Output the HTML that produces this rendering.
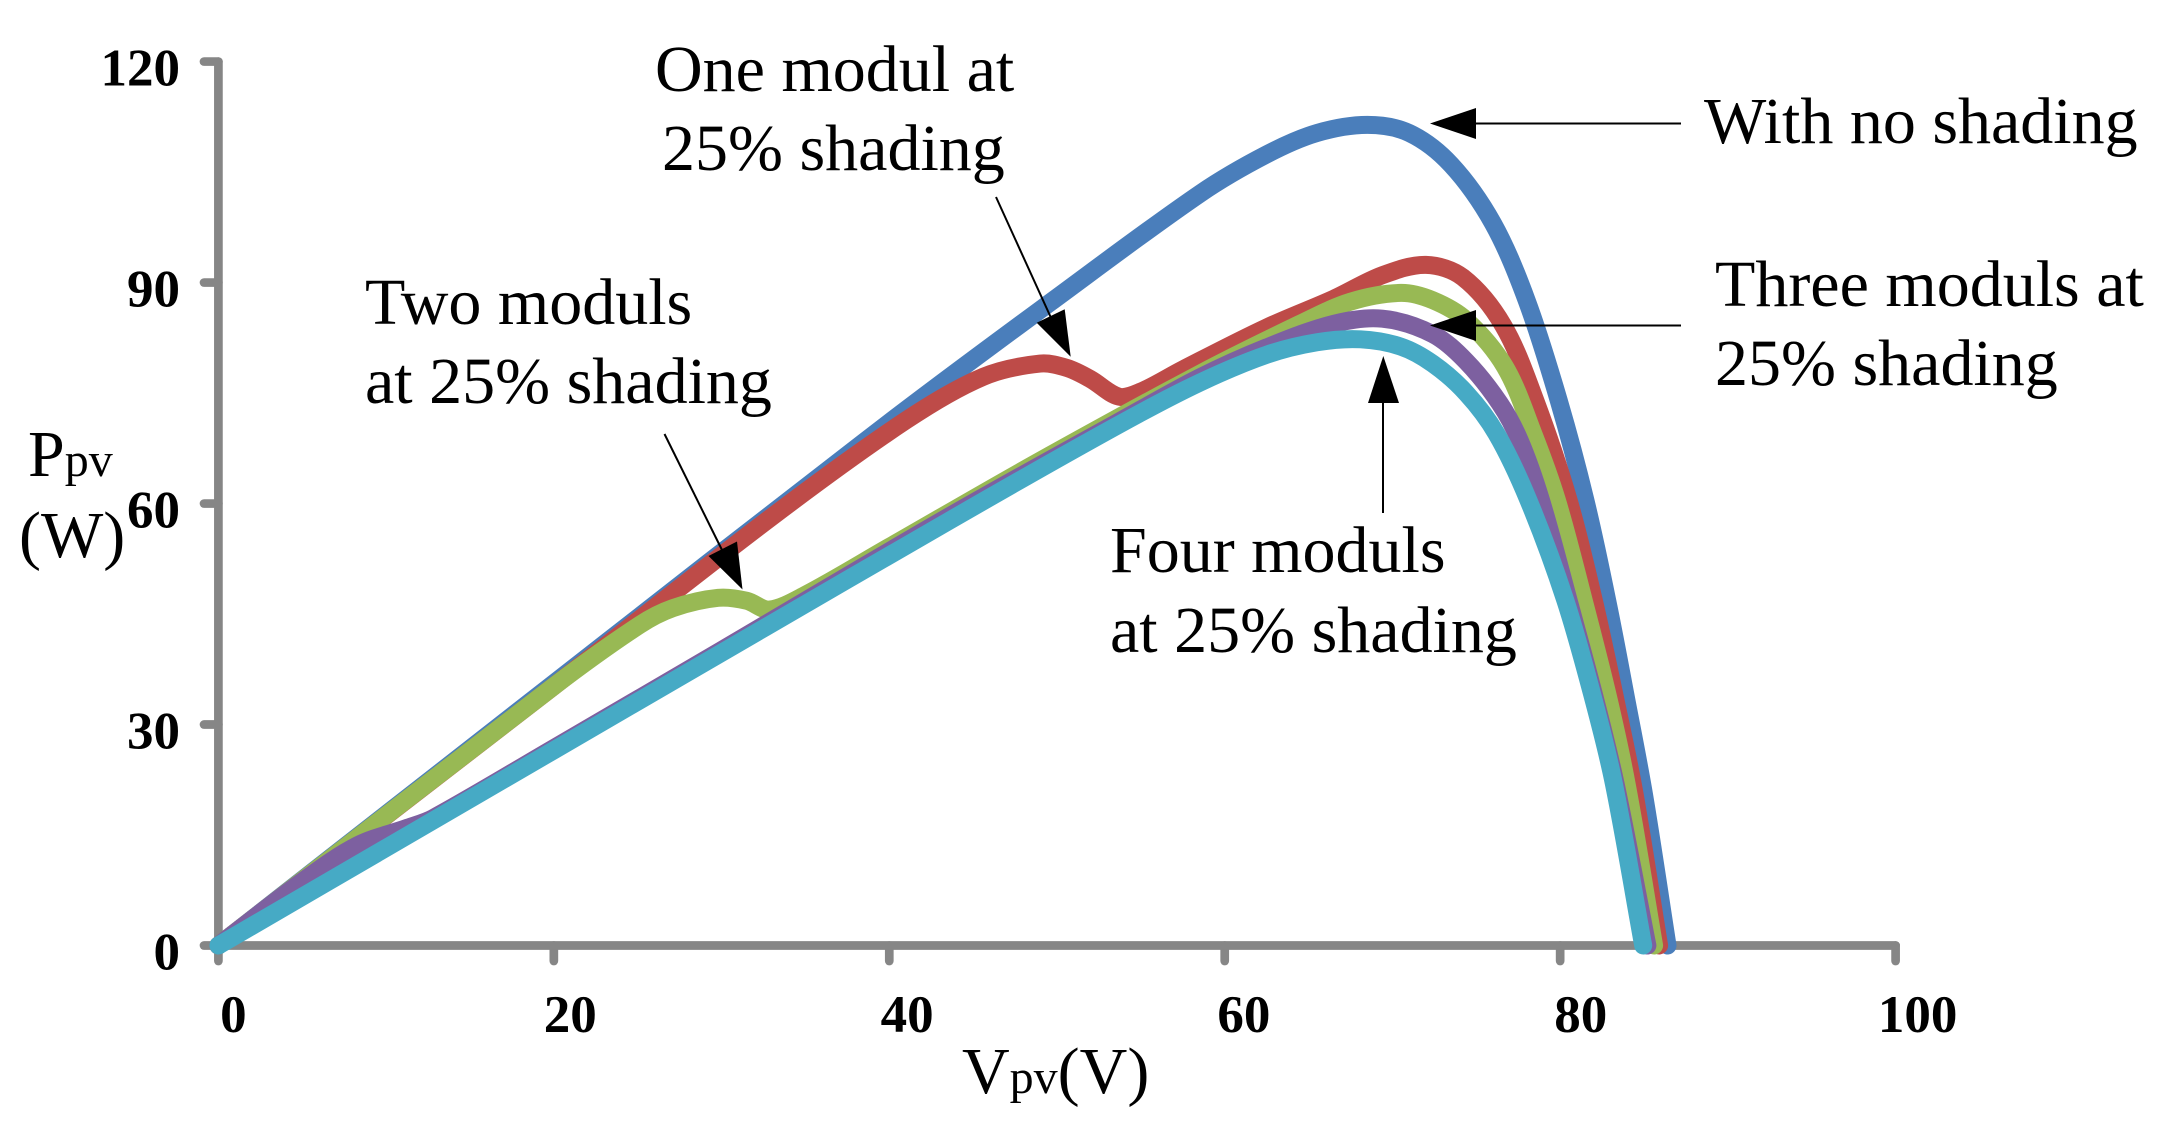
<!DOCTYPE html>
<html lang="en">
<head>
<meta charset="utf-8">
<title>PV power-voltage curves under partial shading</title>
<style>
html,body{margin:0;padding:0;background:#fff;}
svg{display:block;}
text{font-family:"Liberation Serif",serif;fill:#000;}
.lbl{font-size:66px;}
.sub{font-size:48px;}
.tick{font-size:53px;font-weight:bold;}
</style>
</head>
<body>
<svg id="chart" width="2162" height="1127" viewBox="0 0 2162 1127" xmlns="http://www.w3.org/2000/svg">
  <rect width="2162" height="1127" fill="#fff"/>
  <g id="axes"></g>
  <g id="series"></g>
  <g id="ticklabels"></g>

  <g>
    <text class="lbl" x="655" y="91">One modul at</text>
    <text class="lbl" x="662" y="170">25% shading</text>
    <line x1="996" y1="197" x2="1052" y2="320" stroke="#000" stroke-width="2"/>
    <polygon points="1070.7,356.7 1036.7,322.7 1064.7,309.3" fill="#000"/>
  </g>
  <g>
    <text class="lbl" x="365" y="324">Two moduls</text>
    <text class="lbl" x="365" y="403">at 25% shading</text>
    <line x1="664.5" y1="434" x2="722" y2="550" stroke="#000" stroke-width="2"/>
    <polygon points="742.5,589.5 708.5,556 737,541.5" fill="#000"/>
  </g>
  <g>
    <text class="lbl" x="1704" y="143">With no shading</text>
    <line x1="1681" y1="123.5" x2="1470" y2="123.5" stroke="#000" stroke-width="2"/>
    <polygon points="1430,123.5 1476,108 1476,139" fill="#000"/>
  </g>
  <g>
    <text class="lbl" x="1715" y="306">Three moduls at</text>
    <text class="lbl" x="1715" y="385">25% shading</text>
    <line x1="1681" y1="325.5" x2="1470" y2="325.5" stroke="#000" stroke-width="2"/>
    <polygon points="1430,325.5 1476,310 1476,341" fill="#000"/>
  </g>
  <g>
    <text class="lbl" x="1110" y="572">Four moduls</text>
    <text class="lbl" x="1110" y="652">at 25% shading</text>
    <line x1="1383" y1="513" x2="1383" y2="400" stroke="#000" stroke-width="2"/>
    <polygon points="1383.3,356 1368,403 1399,403" fill="#000"/>
  </g>

  <text class="lbl" x="28" y="476">P<tspan class="sub">pv</tspan></text>
  <text class="lbl" x="19" y="557">(W)</text>
  <text class="lbl" x="962" y="1093">V<tspan class="sub">pv</tspan>(V)</text>
</svg>
<script>
const xTicks = [0, 20, 40, 60, 80, 100];
const yTicks = [0, 30, 60, 90, 120];
const xTickLabels = ["0", "20", "40", "60", "80", "100"];
const yTickLabels = ["0", "30", "60", "90", "120"];

const noShadingV = [0,20,40,49.6,58.55,62.5,65.5,68.5,71,73.5,76,78,79.9,81.5,82.8,83.95,85,86.4];
const noShadingP = [0,35.6,71,87.3,102.1,107.4,110.3,111.4,110.3,106,98,87.6,74.1,60.5,46.9,33.3,20.5,0];

const oneModulV = [0,20,33,41,45.6,49,50.6,52,53.7,55,57.5,62.5,66.5,69.4,72,74.2,76.6,78.5,80.5,82,83.3,84.4,85.9];
const oneModulP = [0,35.2,58.2,71.3,77.2,79,78.4,76.9,74.5,75.2,78.2,83.9,87.8,91,92.4,90.7,84.2,74.1,60.5,46.9,33.3,21,0];

const twoModulsV = [0,20,25.1,27.1,29.8,31.5,32.85,35,40,48.6,58.5,64.5,67.5,70.5,72.4,74.4,76.7,78.4,79.8,81.4,82.9,84,85.6];
const twoModulsP = [0,35.2,43.5,45.8,47.2,46.8,45.6,47.6,54.1,65.3,77.6,84.4,87.4,88.6,87.6,84.9,78.6,69.5,60.5,46.9,33.3,21.5,0];

const threeModulsV = [0,5,8.3,11.3,12.8,20,30,43.6,53.6,58.5,62.5,66.5,69.4,72.4,74.4,76.4,77.6,78.85,80.5,82.1,83.3,85.2];
const threeModulsP = [0,8.7,13.6,16,17.3,26.8,40.1,58.3,71,77.1,81.2,84.4,85.1,83,79.3,73.6,68.5,60.5,46.9,33.3,22,0];

const fourModulsV = [0,20,43.6,53.6,58.5,62.5,65.5,68.1,70.5,72.4,74.4,76.2,78.1,80.3,82,83.2,84.95];
const fourModulsP = [0,26.5,57.7,70.6,76.4,80.2,81.9,82.3,81.3,79,75,69.5,60.5,46.9,33.3,22,0];

const NS = "http://www.w3.org/2000/svg";
function xScale(v){ return 218.4 + v * 16.772; }
function yScale(p){ return 945.5 - p * 7.366; }

function smoothPath(vs, ps){
  const pts = vs.map(function(v, i){ return [xScale(v), yScale(ps[i])]; });
  const n = pts.length;
  const seg = [];
  for (let i = 0; i < n - 1; i++){
    seg.push(Math.hypot(pts[i + 1][0] - pts[i][0], pts[i + 1][1] - pts[i][1]));
  }
  const tan = pts.map(function(p, i){
    const a = pts[Math.max(i - 1, 0)], b = pts[Math.min(i + 1, n - 1)];
    const len = (i > 0 ? seg[i - 1] : 0) + (i < n - 1 ? seg[i] : 0);
    return [(b[0] - a[0]) / len, (b[1] - a[1]) / len];
  });
  let d = "M" + pts[0][0].toFixed(1) + " " + pts[0][1].toFixed(1);
  for (let i = 0; i < n - 1; i++){
    const h = seg[i] / 3;
    d += "C" + (pts[i][0] + tan[i][0] * h).toFixed(1) + " " + (pts[i][1] + tan[i][1] * h).toFixed(1) + " " +
         (pts[i + 1][0] - tan[i + 1][0] * h).toFixed(1) + " " + (pts[i + 1][1] - tan[i + 1][1] * h).toFixed(1) + " " +
         pts[i + 1][0].toFixed(1) + " " + pts[i + 1][1].toFixed(1);
  }
  return d;
}

function axisLine(parent, x1, y1, x2, y2){
  const l = document.createElementNS(NS, "line");
  l.setAttribute("x1", x1);
  l.setAttribute("y1", y1);
  l.setAttribute("x2", x2);
  l.setAttribute("y2", y2);
  l.setAttribute("stroke", "#868686");
  l.setAttribute("stroke-width", "8.7");
  l.setAttribute("stroke-linecap", "round");
  parent.appendChild(l);
  return l;
}

const axesG = document.getElementById("axes");
const yAxisLine = axisLine(axesG, xScale(0), yScale(120), xScale(0), yScale(0));


const xAxisLine = axisLine(axesG, xScale(0), yScale(0), xScale(100), yScale(0));



const labelsG = document.getElementById("ticklabels");
xTicks.forEach(function(v, i){
  const t = axisLine(axesG, xScale(v), yScale(0), xScale(v), 961);
  
  
  const s = document.createElementNS(NS, "text");
  s.setAttribute("class", "tick");
  s.setAttribute("text-anchor", "middle");
  s.setAttribute("x", xScale(v) + 15 + v * 0.07);
  s.setAttribute("y", 1032);
  s.textContent = xTickLabels[i];
  
  
  labelsG.appendChild(s);
});
yTicks.forEach(function(p, i){
  const t = axisLine(axesG, 204, yScale(p), xScale(0), yScale(p));
  
  
  const s = document.createElementNS(NS, "text");
  s.setAttribute("class", "tick");
  s.setAttribute("text-anchor", "end");
  s.setAttribute("x", 180);
  s.setAttribute("y", yScale(p) + 24);
  s.textContent = yTickLabels[i];
  
  
  labelsG.appendChild(s);
});

function drawSeries(vs, ps, color, name){
  const path = document.createElementNS(NS, "path");
  path.setAttribute("d", smoothPath(vs, ps));
  path.setAttribute("fill", "none");
  path.setAttribute("stroke", color);
  path.setAttribute("stroke-width", "18");
  path.setAttribute("stroke-linecap", "round");
  path.setAttribute("stroke-linejoin", "round");
  
  
  document.getElementById("series").appendChild(path);
}
drawSeries(noShadingV, noShadingP, "#4A7EBB", "series-no-shading");
drawSeries(oneModulV, oneModulP, "#BE4B48", "series-one-modul");
drawSeries(twoModulsV, twoModulsP, "#98B954", "series-two-moduls");
drawSeries(threeModulsV, threeModulsP, "#7D60A0", "series-three-moduls");
drawSeries(fourModulsV, fourModulsP, "#46AAC5", "series-four-moduls");
</script>
</body>
</html>
